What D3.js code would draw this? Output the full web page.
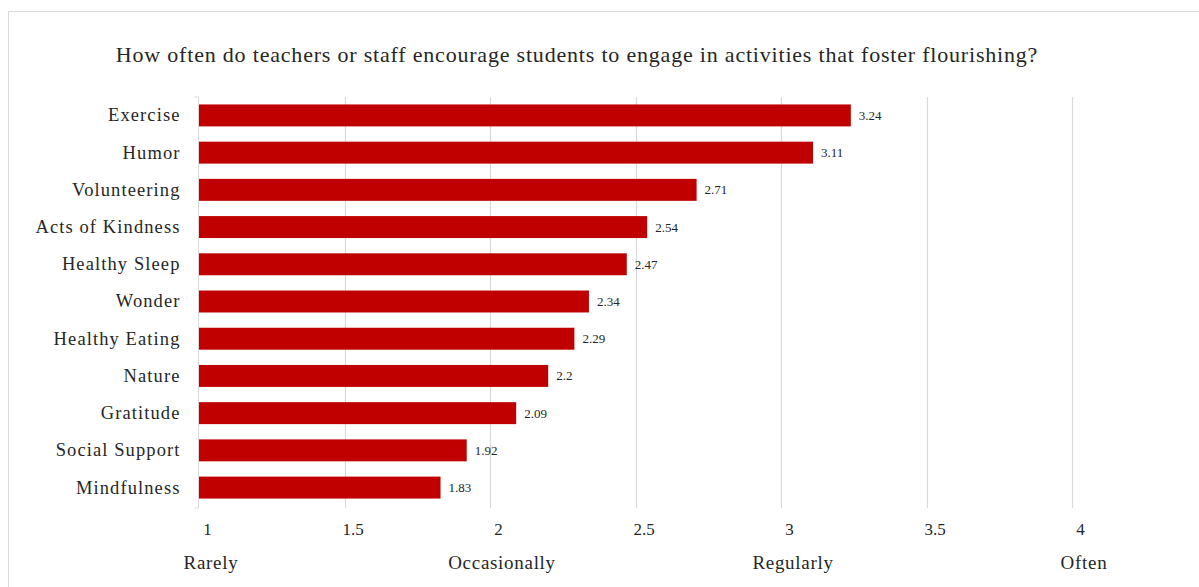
<!DOCTYPE html>
<html>
<head>
<meta charset="utf-8">
<script src="https://cdn.jsdelivr.net/npm/d3@7"></script>
<style>
  body { margin: 0; background: #fff; }
  text { font-family: "Liberation Serif", "DejaVu Serif", serif; fill: #262626; }
</style>
</head>
<body>
<svg id="chart" width="1199" height="587"></svg>
<script>
// data
var categories = ["Exercise", "Humor", "Volunteering", "Acts of Kindness", "Healthy Sleep",
  "Wonder", "Healthy Eating", "Nature", "Gratitude", "Social Support", "Mindfulness"];
var values = [3.24, 3.11, 2.71, 2.54, 2.47, 2.34, 2.29, 2.2, 2.09, 1.92, 1.83];
var ticks = [1, 1.5, 2, 2.5, 3, 3.5, 4];
var scaleNames = [[1, "Rarely"], [2, "Occasionally"], [3, "Regularly"], [4, "Often"]];

var svg = d3.select("#chart");

// chart frame (only top and left edges show in the picture)
svg.append("line").attr("x1", 8).attr("x2", 1199).attr("y1", 11.5).attr("y2", 11.5)
  .attr("stroke", "#d9d9d9");
svg.append("line").attr("x1", 8.5).attr("x2", 8.5).attr("y1", 11).attr("y2", 587)
  .attr("stroke", "#d9d9d9");

var x = d3.scaleLinear().domain([1, 4]).range([199, 1072]);
var y = d3.scaleBand().domain(categories).range([97, 506]).paddingInner(0.41).paddingOuter(0.2);

svg.append("text")
  .attr("x", 577).attr("y", 62)
  .attr("text-anchor", "middle")
  .style("font-size", "22px")
  .style("letter-spacing", "0.8px")
  .text("How often do teachers or staff encourage students to engage in activities that foster flourishing?");

// gridlines
svg.append("g").selectAll("line").data(ticks.slice(1)).join("line")
  .attr("x1", function(d) { return Math.round(x(d)) + 0.5; })
  .attr("x2", function(d) { return Math.round(x(d)) + 0.5; })
  .attr("y1", 97).attr("y2", 508)
  .attr("stroke", "#d9d9d9").attr("stroke-width", 1.2);

// left axis with little ticks
var yAxis = d3.axisLeft(y).tickSize(0).tickPadding(18);
var ga = svg.append("g").attr("transform", "translate(" + (x(1) - 0.5) + ",0)").call(yAxis);
ga.select(".domain").attr("stroke", "#d9d9d9").attr("d", "M-4,97H0V508H-4");
ga.selectAll("text").style("font-size", "18.5px").attr("fill", "#262626")
  .style("letter-spacing", "1.1px")
  .style("font-family", "'Liberation Serif', serif");

// bars
svg.append("g").selectAll("rect").data(values).join("rect")
  .attr("x", x(1))
  .attr("y", function(d, i) { return y(categories[i]); })
  .attr("width", function(d) { return x(d) - x(1); })
  .attr("height", y.bandwidth())
  .attr("fill", "#c00000");

svg.append("g").selectAll("text").data(values).join("text")
  .attr("x", function(d) { return x(d) + 8; })
  .attr("y", function(d, i) { return y(categories[i]) + y.bandwidth() / 2 + 4.5; })
  .style("font-size", "13px")
  .text(function(d) { return d; });

// bottom tick labels
var xAxis = d3.axisBottom(x).tickValues(ticks).tickSize(0).tickPadding(0)
  .tickFormat(function(d) { return d; });
var gx = svg.append("g").attr("transform", "translate(8,523)").call(xAxis);
gx.select(".domain").remove();
gx.selectAll("text").style("font-size", "17px").attr("fill", "#262626")
  .style("font-family", "'Liberation Serif', serif");

svg.append("g").selectAll("text").data(scaleNames).join("text")
  .attr("x", function(d) { return x(d[0]) + 12; })
  .attr("y", 569)
  .attr("text-anchor", "middle")
  .style("font-size", "19px")
  .style("letter-spacing", "0.7px")
  .text(function(d) { return d[1]; });
</script>
</body>
</html>
